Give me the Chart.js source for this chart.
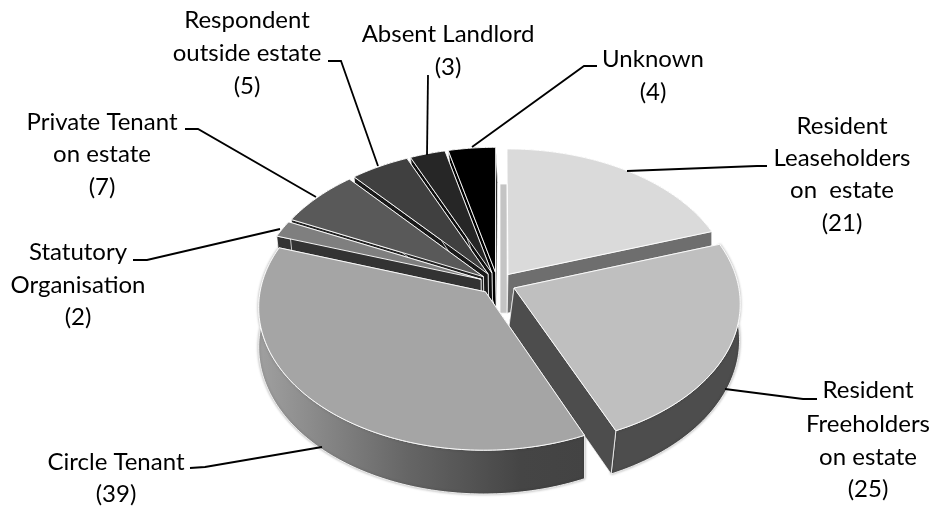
<!DOCTYPE html>
<html><head><meta charset="utf-8">
<style>html,body{margin:0;padding:0;background:#fff}canvas{display:block}</style>
<script src="https://cdn.jsdelivr.net/npm/chart.js@4"></script></head>
<body><canvas id="c" width="938" height="508"></canvas>
<script>
const categories = ["Resident Leaseholders on estate","Resident Freeholders on estate","Circle Tenant","Statutory Organisation","Private Tenant on estate","Respondent outside estate","Absent Landlord","Unknown"];
const values = [21,25,39,2,7,5,3,4];
const topColors = ["#dadada","#bfbfbf","#a5a5a5","#7f7f7f","#595959","#404040","#262626","#000000"];
const wallColors = ["#6e6e6e","#4d4d4d","#434343","#333333","#242424","#1a1a1a","#0f0f0f","#000000"];
const startFaceColors = ["#c4c4c4","#4d4d4d","#434343","#333333","#242424","#1a1a1a","#0f0f0f","#000000"];
const wallLean = [0,-5,0,0,0,0,0,0];
const paintOrder = [7,6,5,4,3,0,1,2];
const labelLines = [
 ["Resident","Leaseholders","on  estate","(21)"],
 ["Resident","Freeholders","on estate","(25)"],
 ["Circle Tenant","(39)"],
 ["Statutory","Organisation","(2)"],
 ["Private Tenant","on estate","(7)"],
 ["Respondent","outside estate","(5)"],
 ["Absent Landlord","(3)"],
 ["Unknown","(4)"]
];
const labelLayout = [
 {x:842,y:[134,166,198,231]},
 {x:868,y:[398,432,465,497]},
 {x:116,y:[470,502]},
 {x:78,y:[260,293,325]},
 {x:102,y:[130,162,195]},
 {x:247,y:[28,61,94]},
 {x:448,y:[42,75]},
 {x:653,y:[67,100]}
];
const leaders = [
 [[627,171],[757,166],[767,166]],
 [[725,389],[803,399],[817,399]],
 [[322,447],[205,467],[190,468]],
 [[280,229],[147,260],[133,260]],
 [[316,197],[198,129],[185,129]],
 [[378,166],[341,61],[328,61]],
 [[427,155],[428,75]],
 [[472,147],[584,66],[597,66]]
];
const view = {cx:497.6, cy:283.5, R:224, k:0.626, p:0.103, depth:39, explode:0.08, farShift:4};

function project(u,v){
  const f = 1/(1 - view.p*v);
  return {x:view.cx + view.R*u*f, y:view.cy + view.R*view.k*v*f, v, f};
}
function lower(pt,lean,noShift){
  const far = Math.max(0,-pt.v), dx = pt.x - view.cx;
  const shift = noShift ? 0 : Math.min(Math.abs(dx), view.farShift, view.farShift*far*3);
  return {x: pt.x - Math.sign(dx)*shift + lean*Math.max(0,pt.v), y: pt.y + view.depth*pt.f};
}
function path(ctx,pts){
  ctx.beginPath();
  pts.forEach((p,i)=> i? ctx.lineTo(p.x,p.y) : ctx.moveTo(p.x,p.y));
  ctx.closePath();
}
function paint(ctx,pts,fill,lw){
  path(ctx,pts);
  ctx.fillStyle = fill; ctx.fill();
  ctx.lineWidth = lw; ctx.strokeStyle = "rgba(255,255,255,0.92)"; ctx.lineJoin="round"; ctx.stroke();
}
const pie3d = {
  id:'pie3d',
  beforeDatasetsDraw(chart){
    const ctx = chart.ctx, arcs = chart.getDatasetMeta(0).data;
    paintOrder.forEach(i=>{
      const a = arcs[i];
      const mid = (a.startAngle+a.endAngle)/2;
      const ox = Math.cos(mid)*view.explode, oy = Math.sin(mid)*view.explode;
      const n = Math.max(2,Math.ceil((a.endAngle-a.startAngle)/(Math.PI/180)));
      const rim = [];
      for(let s=0;s<=n;s++){
        const t = a.startAngle+(a.endAngle-a.startAngle)*s/n;
        rim.push(project(ox+Math.cos(t),oy+Math.sin(t)));
      }
      const apex = project(ox,oy);
      const rimLow = rim.map(p=>lower(p,wallLean[i],i===0)), apexLow = lower(apex,wallLean[i]);
      if(wallLean[i]) apexLow.x += wallLean[i];
      const drawRim = ()=>{
        let fill = wallColors[i];
        if(i===2){
          const g = ctx.createLinearGradient(258,0,587,0);
          g.addColorStop(0,"#a0a0a0"); g.addColorStop(0.45,"#666666"); g.addColorStop(0.8,"#454545"); g.addColorStop(1,"#434343");
          fill = g;
        }
        ctx.save();
        if(i===1||i===2){ctx.shadowColor="rgba(0,0,0,0.35)";ctx.shadowBlur=3;}
        paint(ctx,rim.concat(rimLow.slice().reverse()),fill,0.9);
        ctx.restore();
      };
      const drawFaces = ()=>{
        if(i===0){
          // the far part of this face is hidden: only its sliver below the far corner shows
          const ly = rim[0].y + view.depth*rim[0].f, lx = rim[0].x - view.farShift;
          paint(ctx,[{x:lx-3,y:ly},{x:apex.x-1,y:ly},{x:apexLow.x,y:apexLow.y},{x:lx-3,y:apexLow.y}],startFaceColors[i],0.8);
        } else {
          paint(ctx,[apex,rim[0],rimLow[0],apexLow],startFaceColors[i],0.8);
        }
        paint(ctx,[apex,rim[n],rimLow[n],apexLow],wallColors[i],0.8);
      };
      // the large front slice hides its own radial faces behind its rim
      if(i===2){ drawFaces(); drawRim(); } else { drawRim(); drawFaces(); }
      // top face
      paint(ctx,[apex].concat(rim),topColors[i],1);
    });
    return false;
  },
  afterDraw(chart){
    const ctx = chart.ctx;
    ctx.save();
    ctx.strokeStyle="#000"; ctx.lineWidth=1.8; ctx.lineJoin="miter";
    leaders.forEach(l=>{
      ctx.beginPath();
      l.forEach((p,i)=> i? ctx.lineTo(p[0],p[1]) : ctx.moveTo(p[0],p[1]));
      ctx.stroke();
    });
    ctx.fillStyle="#000"; ctx.font="24px Lato"; ctx.textAlign="center"; ctx.textBaseline="alphabetic";
    labelLines.forEach((lines,i)=>{
      lines.forEach((t,j)=> ctx.fillText(t,labelLayout[i].x,labelLayout[i].y[j]));
    });
    ctx.restore();
  }
};
new Chart(document.getElementById('c'),{
  type:'pie',
  data:{labels:categories,datasets:[{data:values,backgroundColor:topColors,borderWidth:0}]},
  options:{responsive:false,animation:false,events:[],
    plugins:{legend:{display:false},tooltip:{enabled:false},title:{display:false}}},
  plugins:[pie3d]
});
</script></body></html>
